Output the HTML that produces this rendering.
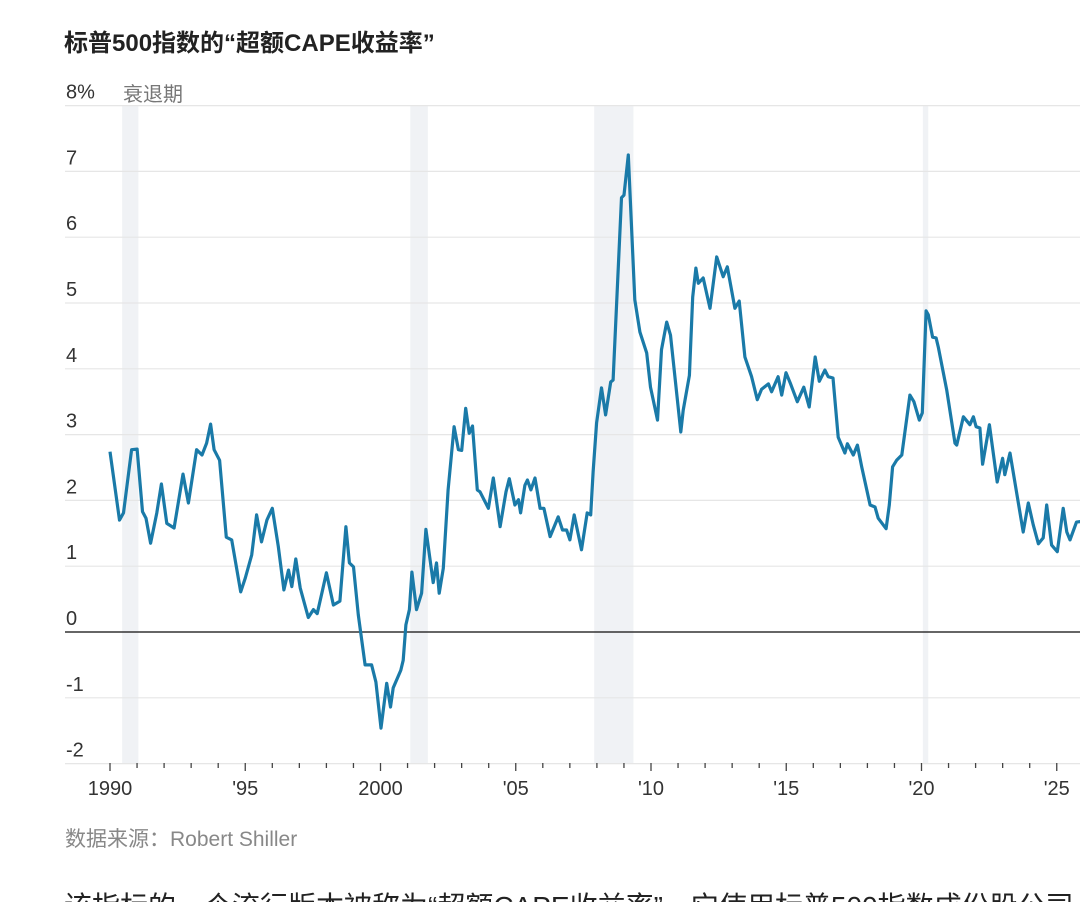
<!DOCTYPE html>
<html><head><meta charset="utf-8">
<style>
html,body{margin:0;padding:0;background:#fff;width:1080px;height:902px;overflow:hidden;font-family:"Liberation Sans","Noto Sans CJK SC",sans-serif;}
svg{position:absolute;left:0;top:0}
.t{font-family:"Liberation Sans","Noto Sans CJK SC",sans-serif}
</style></head>
<body>
<svg id="chart" width="1080" height="902" viewBox="0 0 1080 902">
  <text class="t" x="64" y="51" font-size="24" font-weight="bold" fill="#222">标普500指数的“超额CAPE收益率”</text>
  <g id="rec"></g>
  <g id="grid"></g>
  <g id="xaxis"></g>
  <path id="line" fill="none" stroke="#1a7aa8" stroke-width="3.2" stroke-linejoin="round"/>
  <text class="t" x="123" y="101" font-size="20" fill="#777">衰退期</text>
  <text class="t" x="65" y="846" font-size="21" fill="#888">数据来源：Robert Shiller</text>
  <text class="t" x="64" y="916" font-size="28" fill="#222">该指标的一个流行版本被称为“超额CAPE收益率”，它使用标普500指数成份股公司</text>
</svg>
<script>
const yTicks=[8,7,6,5,4,3,2,1,0,-1,-2];
const yTickLabels=["8%","7","6","5","4","3","2","1","0","-1","-2"];
const xTickYears=[1990,1995,2000,2005,2010,2015,2020,2025];
const xTickLabels=["1990","'95","2000","'05","'10","'15","'20","'25"];
const recessionStarts=[1990.45,2001.1,2007.9,2020.05];
const recessionEnds=[1991.05,2001.75,2009.35,2020.25];
const years=[1990.0,1990.35,1990.5,1990.8,1991.0,1991.2,1991.33,1991.5,1991.73,1991.9,1992.1,1992.37,1992.7,1992.9,1993.2,1993.4,1993.57,1993.72,1993.85,1994.05,1994.3,1994.5,1994.83,1995.0,1995.24,1995.42,1995.6,1995.8,1996.0,1996.22,1996.43,1996.6,1996.72,1996.87,1997.03,1997.33,1997.52,1997.66,1997.86,1998.0,1998.26,1998.5,1998.72,1998.85,1999.0,1999.18,1999.43,1999.67,1999.83,2000.02,2000.23,2000.37,2000.47,2000.75,2000.84,2000.94,2001.07,2001.16,2001.33,2001.52,2001.68,2001.95,2002.07,2002.17,2002.32,2002.5,2002.72,2002.88,2003.0,2003.15,2003.28,2003.4,2003.58,2003.68,2003.99,2004.17,2004.42,2004.64,2004.76,2004.97,2005.1,2005.18,2005.34,2005.43,2005.56,2005.71,2005.9,2006.04,2006.27,2006.57,2006.73,2006.88,2007.0,2007.16,2007.43,2007.64,2007.77,2007.86,2007.99,2008.17,2008.32,2008.51,2008.6,2008.91,2009.0,2009.16,2009.4,2009.59,2009.84,2009.98,2010.24,2010.39,2010.58,2010.72,2011.1,2011.19,2011.42,2011.54,2011.66,2011.75,2011.93,2012.18,2012.43,2012.67,2012.82,2013.1,2013.26,2013.47,2013.72,2013.93,2014.09,2014.34,2014.46,2014.7,2014.83,2014.99,2015.16,2015.41,2015.65,2015.85,2016.07,2016.22,2016.43,2016.55,2016.73,2016.92,2017.17,2017.26,2017.48,2017.63,2017.79,2018.1,2018.28,2018.4,2018.69,2018.81,2018.93,2019.08,2019.27,2019.57,2019.72,2019.92,2020.03,2020.17,2020.25,2020.41,2020.54,2020.62,2020.93,2021.24,2021.3,2021.55,2021.79,2021.92,2022.02,2022.16,2022.26,2022.51,2022.8,2023.0,2023.08,2023.27,2023.76,2023.95,2024.13,2024.32,2024.5,2024.63,2024.81,2025.02,2025.24,2025.37,2025.49,2025.73,2025.9];
const values=[2.74,1.70,1.81,2.77,2.78,1.83,1.73,1.35,1.81,2.25,1.65,1.58,2.40,1.96,2.77,2.69,2.87,3.16,2.77,2.61,1.44,1.40,0.61,0.82,1.17,1.78,1.37,1.70,1.88,1.30,0.64,0.94,0.69,1.11,0.67,0.22,0.34,0.28,0.64,0.90,0.41,0.47,1.60,1.05,0.99,0.26,-0.50,-0.50,-0.76,-1.46,-0.78,-1.14,-0.85,-0.58,-0.43,0.11,0.34,0.91,0.34,0.59,1.56,0.75,1.05,0.59,0.97,2.16,3.12,2.77,2.76,3.40,3.02,3.13,2.16,2.13,1.88,2.34,1.60,2.13,2.33,1.93,2.01,1.81,2.23,2.31,2.16,2.34,1.88,1.88,1.45,1.75,1.55,1.55,1.40,1.78,1.25,1.81,1.78,2.43,3.18,3.71,3.30,3.80,3.83,6.60,6.64,7.25,5.05,4.56,4.24,3.72,3.22,4.29,4.71,4.51,3.04,3.37,3.90,5.09,5.53,5.30,5.38,4.92,5.70,5.40,5.55,4.92,5.03,4.18,3.88,3.53,3.69,3.77,3.65,3.88,3.60,3.94,3.77,3.50,3.72,3.42,4.18,3.81,3.98,3.88,3.86,2.96,2.72,2.86,2.69,2.84,2.51,1.93,1.90,1.73,1.57,1.93,2.51,2.61,2.69,3.60,3.50,3.22,3.33,4.88,4.82,4.48,4.47,4.33,3.68,2.87,2.84,3.27,3.15,3.27,3.12,3.10,2.55,3.15,2.28,2.64,2.39,2.72,1.52,1.96,1.63,1.34,1.43,1.93,1.32,1.22,1.88,1.52,1.40,1.67,1.68];

const NS='http://www.w3.org/2000/svg';
function xs(yr){return 110+(yr-1990)*27.05;}
function ys(v){return 632-v*65.8;}
function mk(tag,attrs,parent){const e=document.createElementNS(NS,tag);for(const k in attrs)e.setAttribute(k,attrs[k]);parent.appendChild(e);return e;}
const rec=document.getElementById('rec'),grid=document.getElementById('grid'),xa=document.getElementById('xaxis');
recessionStarts.forEach((s,i)=>{
  const r=mk('rect',{x:xs(s),y:106,width:xs(recessionEnds[i])-xs(s),height:657,fill:'#f0f2f5'},rec);
  
  
});
yTicks.forEach((v,i)=>{
  const l=mk('line',{x1:65,x2:1080,y1:ys(v),y2:ys(v),stroke:v===0?'#333':'#e6e6e6','stroke-width':v===0?1.5:1.2},grid);
  
  
  const t=mk('text',{x:66,y:ys(v)-7,'font-size':20,fill:'#333',class:'t'},grid);
  t.textContent=yTickLabels[i];
  
  
});
for(let y=1990;y<=2025;y++){
  const major=xTickYears.includes(y);
  const tk=mk('line',{x1:xs(y),x2:xs(y),y1:763,y2:major?771:768,stroke:'#444','stroke-width':1.3},xa);
  
  
}
xTickYears.forEach((y,i)=>{
  const t=mk('text',{x:xs(y),y:795,'font-size':20,fill:'#333','text-anchor':'middle',class:'t'},xa);
  t.textContent=xTickLabels[i];
  
  
});
let d='';
years.forEach((yr,i)=>{d+=(i?'L':'M')+xs(yr).toFixed(1)+','+ys(values[i]).toFixed(1);});
document.getElementById('line').setAttribute('d',d);
</script>
</body></html>
